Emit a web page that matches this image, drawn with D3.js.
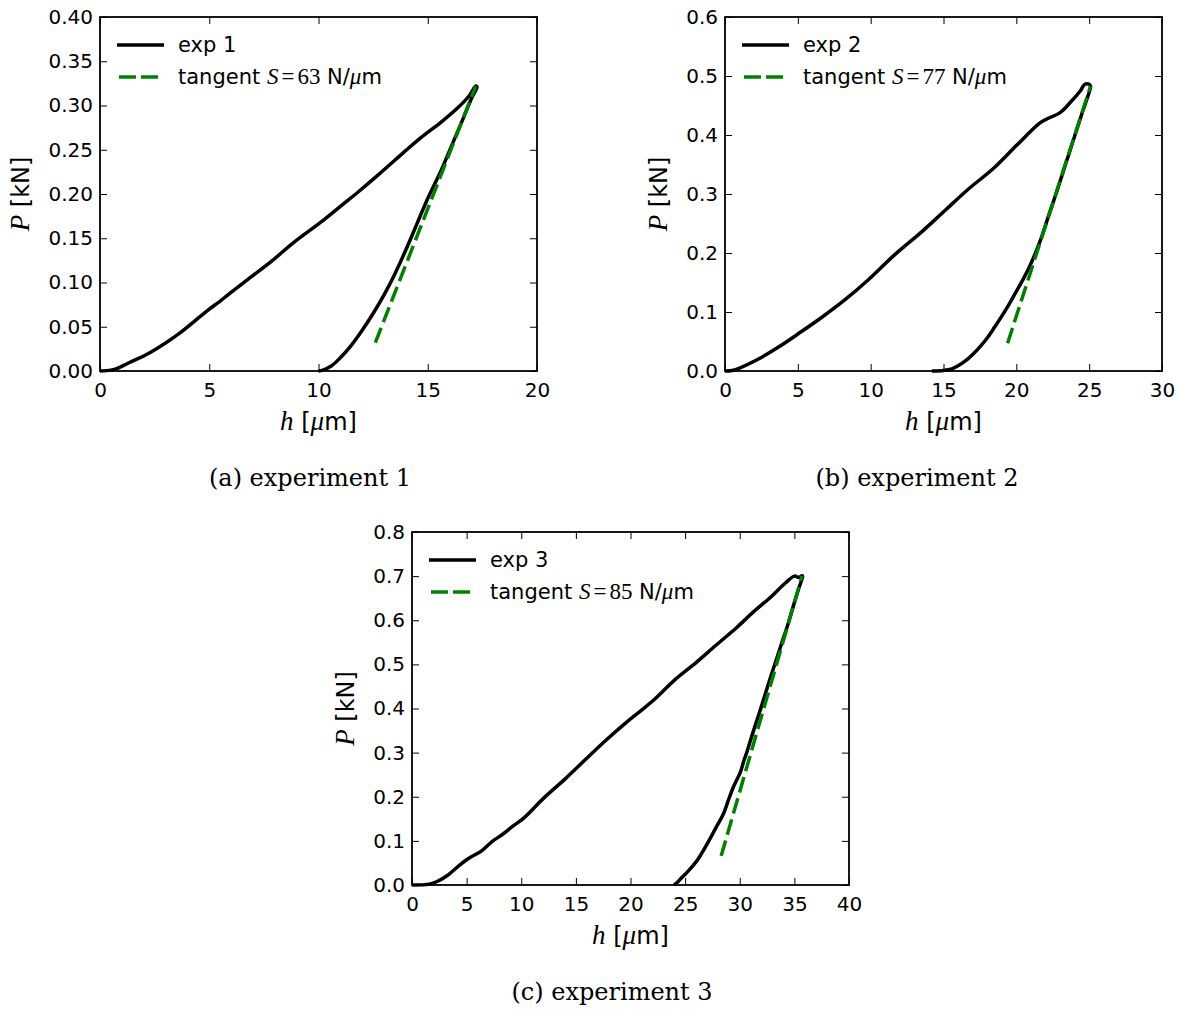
<!DOCTYPE html>
<html>
<head>
<meta charset="utf-8">
<script src="https://cdn.jsdelivr.net/npm/d3@7"></script>
<style>
  body { margin: 0; background: #fff; }
</style>
</head>
<body>
<svg id="fig" width="1184" height="1009"></svg>
<script>
// ---- data: [h (um), P (kN)] ----
var exp1Loading = [[0,0],[0.5,0.001],[0.8,0.003],[1.3,0.009],[2.3,0.021],[3.6,0.042],[4.9,0.068],[5.5,0.079],[5.9,0.087],[6.9,0.106],[7.9,0.125],[8.8,0.144],[10.2,0.170],[11.1,0.188],[11.8,0.202],[12.8,0.223],[13.9,0.247],[14.7,0.264],[15.6,0.281],[16.4,0.298],[16.9,0.311],[17.2,0.322]];
var exp1Unloading = [[17.25,0.321],[17.0,0.308],[16.6,0.284],[16.1,0.255],[15.6,0.226],[15.0,0.195],[14.5,0.166],[14.0,0.137],[13.5,0.110],[13.0,0.086],[12.5,0.065],[12.0,0.046],[11.5,0.029],[11.0,0.015],[10.6,0.006],[10.2,0.001],[10.0,0]];
var exp1Tangent = [[12.6,0.032],[17.2,0.322]];

var exp2Loading = [[0,0],[0.5,0.001],[1.0,0.005],[2.2,0.019],[3.7,0.041],[5.2,0.066],[6.7,0.092],[8.2,0.120],[9.9,0.156],[11.6,0.196],[13.6,0.238],[15.1,0.272],[16.6,0.306],[18.5,0.345],[20.0,0.382],[21.5,0.418],[22.0,0.426],[23.0,0.438],[23.7,0.455],[24.4,0.475],[24.7,0.486],[25.0,0.486]];
var exp2Unloading = [[25.1,0.482],[24.9,0.465],[24.5,0.436],[24.0,0.398],[23.4,0.352],[22.8,0.306],[22.2,0.262],[21.6,0.218],[21.0,0.182],[20.5,0.157],[20.0,0.135],[19.5,0.113],[19.0,0.093],[18.5,0.074],[18.0,0.056],[17.5,0.041],[17.0,0.028],[16.5,0.017],[16.0,0.009],[15.5,0.003],[15.0,0.001],[14.2,0]];
var exp2Tangent = [[19.4,0.047],[25.1,0.483]];

var exp3Loading = [[0,0],[1.6,0.002],[2.3,0.008],[3.2,0.021],[4.5,0.048],[5.1,0.059],[6.4,0.078],[7.3,0.098],[8.3,0.115],[9.2,0.133],[10.2,0.151],[12.1,0.198],[14.0,0.240],[15.9,0.285],[17.7,0.327],[19.6,0.368],[20.9,0.394],[22.2,0.421],[24.1,0.466],[26.0,0.504],[27.9,0.545],[29.7,0.583],[31.3,0.620],[32.9,0.654],[34.2,0.685],[35.0,0.700],[35.4,0.697],[35.7,0.701]];
var exp3Unloading = [[35.75,0.700],[35.4,0.672],[34.95,0.636],[34.4,0.590],[33.8,0.545],[33.3,0.507],[32.9,0.477],[32.4,0.438],[31.95,0.402],[31.5,0.368],[31.16,0.342],[30.7,0.305],[30.37,0.281],[30.05,0.255],[29.7,0.237],[29.4,0.221],[29.0,0.195],[28.5,0.161],[28.0,0.138],[27.5,0.115],[26.9,0.088],[26.3,0.063],[25.8,0.046],[25.3,0.032],[24.7,0.017],[24.3,0.006],[24.0,0]];
var exp3Tangent = [[28.3,0.066],[35.7,0.700]];

var xTicks1 = [0,5,10,15,20];
var yTicks1 = [0,0.05,0.10,0.15,0.20,0.25,0.30,0.35,0.40];
var xTicks2 = [0,5,10,15,20,25,30];
var yTicks2 = [0,0.1,0.2,0.3,0.4,0.5,0.6];
var xTicks3 = [0,5,10,15,20,25,30,35,40];
var yTicks3 = [0,0.1,0.2,0.3,0.4,0.5,0.6,0.7,0.8];

var seriesNames = ["exp 1","exp 2","exp 3"];
var stiffness = [63,77,85];
var captions = ["(a) experiment 1","(b) experiment 2","(c) experiment 3"];

// ---- layout ----
var SANS = "DejaVu Sans", SERIF = "Liberation Serif";
var svg = d3.select("#fig");

var panels = [
  {left:100, top:17, w:437, h:354, xt:xTicks1, yt:yTicks1, yf:".2f", load:exp1Loading, unload:exp1Unloading, tan:exp1Tangent, capX:310, capY:486},
  {left:725, top:17, w:437, h:354, xt:xTicks2, yt:yTicks2, yf:".1f", load:exp2Loading, unload:exp2Unloading, tan:exp2Tangent, capX:917, capY:486},
  {left:412, top:532, w:437, h:353, xt:xTicks3, yt:yTicks3, yf:".1f", load:exp3Loading, unload:exp3Unloading, tan:exp3Tangent, capX:612, capY:1000}
];

function mathSpan(sel, txt, size, italic) {
  return sel.append("tspan").attr("font-family", SERIF).attr("font-size", size)
    .attr("font-style", italic ? "italic" : "normal").text(txt);
}

panels.forEach(function(p, i) {
  var x = d3.scaleLinear().domain([p.xt[0], p.xt[p.xt.length-1]]).range([p.left, p.left + p.w]);
  var y = d3.scaleLinear().domain([p.yt[0], p.yt[p.yt.length-1]]).range([p.top + p.h, p.top]);
  var g = svg.append("g");

  // ticks on all four sides, pointing inward
  g.append("g").attr("transform", "translate(0," + (p.top + p.h) + ")")
    .call(d3.axisBottom(x).tickValues(p.xt).tickFormat(d3.format("d")).tickSizeInner(-7).tickSizeOuter(0).tickPadding(12));
  var gl = g.append("g").attr("transform", "translate(" + p.left + ",0)")
    .call(d3.axisLeft(y).tickValues(p.yt).tickFormat(d3.format(p.yf)).tickSizeInner(-7).tickSizeOuter(0).tickPadding(7));
  g.append("g").attr("transform", "translate(0," + p.top + ")")
    .call(d3.axisTop(x).tickValues(p.xt).tickFormat("").tickSizeInner(-7).tickSizeOuter(0));
  g.append("g").attr("transform", "translate(" + (p.left + p.w) + ",0)")
    .call(d3.axisRight(y).tickValues(p.yt).tickFormat("").tickSizeInner(-7).tickSizeOuter(0));
  g.selectAll(".domain").remove();
  g.selectAll(".tick line").attr("stroke", "#000").attr("stroke-width", 1);
  g.selectAll(".tick text").attr("font-family", SANS).attr("font-size", 20).attr("fill", "#000");

  // curves
  var line = d3.line().x(function(d) { return x(d[0]); }).y(function(d) { return y(d[1]); })
    .curve(d3.curveCatmullRom.alpha(0.5));
  g.append("path").datum(p.load.concat(p.unload)).attr("d", line)
    .attr("fill", "none").attr("stroke", "#000").attr("stroke-width", 3.5).attr("stroke-linejoin", "round");
  g.append("path").datum(p.tan).attr("d", d3.line().x(function(d) { return x(d[0]); }).y(function(d) { return y(d[1]); }))
    .attr("fill", "none").attr("stroke", "#008000").attr("stroke-width", 3.5).attr("stroke-dasharray", "16,6");

  // frame
  g.append("rect").attr("x", p.left).attr("y", p.top).attr("width", p.w).attr("height", p.h)
    .attr("fill", "none").attr("stroke", "#000").attr("stroke-width", 1.8);

  // legend
  var r1 = p.top + 28, r2 = p.top + 60;
  g.append("line").attr("x1", p.left + 17).attr("x2", p.left + 64).attr("y1", r1).attr("y2", r1)
    .attr("stroke", "#000").attr("stroke-width", 3.5);
  g.append("line").attr("x1", p.left + 19).attr("x2", p.left + 62).attr("y1", r2).attr("y2", r2)
    .attr("stroke", "#008000").attr("stroke-width", 3.5).attr("stroke-dasharray", "17,5");
  g.append("text").attr("x", p.left + 78).attr("y", r1 + 7).attr("font-family", SANS).attr("font-size", 21)
    .text(seriesNames[i]);
  var t = g.append("text").attr("x", p.left + 78).attr("y", r2 + 7).attr("font-family", SANS).attr("font-size", 21);
  t.append("tspan").text("tangent ");
  mathSpan(t, "S", 23, true);
  mathSpan(t, "=", 23, false).attr("dx", 3);
  mathSpan(t, stiffness[i], 23, false).attr("dx", 3);
  t.append("tspan").text(" N/");
  mathSpan(t, "\u03bc", 23, true);
  t.append("tspan").text("m");

  // axis labels
  var xl = g.append("text").attr("x", p.left + p.w / 2).attr("y", p.top + p.h + 59)
    .attr("text-anchor", "middle").attr("font-family", SANS).attr("font-size", 24);
  mathSpan(xl, "h", 27, true);
  xl.append("tspan").text(" [");
  mathSpan(xl, "\u03bc", 27, true);
  xl.append("tspan").text("m]");

  var bx = p.left + gl.node().getBBox().x;
  var yc = p.top + p.h / 2, ylx = bx - 19;
  var yl = g.append("text").attr("transform", "translate(" + ylx + "," + yc + ") rotate(-90)")
    .attr("text-anchor", "middle").attr("font-family", SANS).attr("font-size", 24);
  mathSpan(yl, "P", 27, true);
  yl.append("tspan").text(" [kN]");

  // caption
  svg.append("text").attr("x", p.capX).attr("y", p.capY).attr("text-anchor", "middle")
    .attr("font-family", "DejaVu Serif").attr("font-size", 24).text(captions[i]);
});
</script>
</body>
</html>
